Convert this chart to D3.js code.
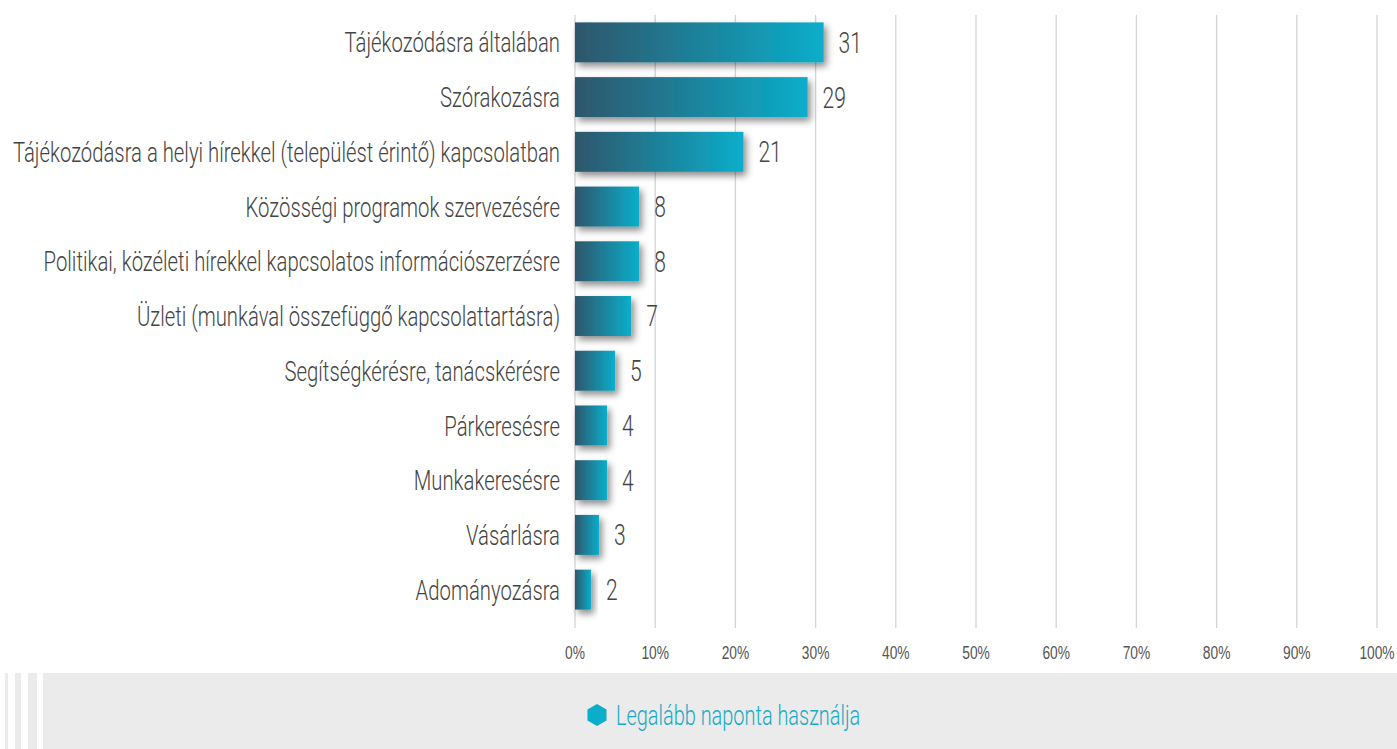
<!DOCTYPE html>
<html>
<head>
<meta charset="utf-8">
<script src="https://cdn.jsdelivr.net/npm/d3@7"></script>
<style>
  html, body { margin: 0; padding: 0; background: #fff; }
  svg { display: block; font-family: Roboto, "DejaVu Sans", sans-serif; font-weight: 300; }
</style>
</head>
<body>
<svg id="chart" width="1397" height="749"></svg>
<script>
const categories = [
  "Tájékozódásra általában",
  "Szórakozásra",
  "Tájékozódásra a helyi hírekkel (települést érintő) kapcsolatban",
  "Közösségi programok szervezésére",
  "Politikai, közéleti hírekkel kapcsolatos információszerzésre",
  "Üzleti (munkával összefüggő kapcsolattartásra)",
  "Segítségkérésre, tanácskérésre",
  "Párkeresésre",
  "Munkakeresésre",
  "Vásárlásra",
  "Adományozásra"
];
const values = [31, 29, 21, 8, 8, 7, 5, 4, 4, 3, 2];
const tickValues = [0, 10, 20, 30, 40, 50, 60, 70, 80, 90, 100];
const seriesName = "Legalább naponta használja";

const svg = d3.select("#chart");
const defs = svg.append("defs");

const grad = defs.append("linearGradient")
  .attr("id", "barGrad").attr("x1", "0%").attr("x2", "100%").attr("y1", "0%").attr("y2", "0%");
grad.append("stop").attr("offset", "0%").attr("stop-color", "#2f566b");
grad.append("stop").attr("offset", "100%").attr("stop-color", "#0aaecb");

const shadow = defs.append("filter").attr("id", "shadow")
  .attr("x", "-20%").attr("y", "-30%").attr("width", "160%").attr("height", "180%");
shadow.append("feDropShadow").attr("dx", 3).attr("dy", 4).attr("stdDeviation", 3.5)
  .attr("flood-color", "#000").attr("flood-opacity", 0.45);

const x = d3.scaleLinear().domain([0, 100]).range([575, 1377]);
const y = d3.scaleBand().domain(categories).range([15, 617]).paddingInner(0.27).paddingOuter(0.135);

// condensed lettering: draw at (px, py) and squeeze horizontally
const SQ = 0.725;
function place(sel, px, py) {
  sel.attr("x", 0).attr("y", 0)
    .attr("transform", (d, i) => `translate(${px(d, i)},${py(d, i)}) scale(${SQ},1)`);
}

// vertical grid lines
svg.append("g").selectAll("line").data(tickValues).join("line")
  .attr("x1", d => x(d)).attr("x2", d => x(d))
  .attr("y1", 15).attr("y2", 628)
  .attr("stroke", "#d4d4d4").attr("stroke-width", 1.3);

// x axis labels
const xAxis = d3.axisBottom(x).tickValues(tickValues).tickFormat(d => d + "%").tickSize(0).tickPadding(0);
const gx = svg.append("g").call(xAxis);
gx.select(".domain").remove();
gx.selectAll(".tick").attr("transform", null);
gx.selectAll(".tick text")
  .attr("font-size", 19).attr("fill", "#555").attr("font-family", "inherit")
  .attr("dy", null).attr("text-anchor", "middle")
  .call(place, d => x(d), () => 659);

// bars
svg.append("g").selectAll("rect").data(values).join("rect")
  .attr("x", x(0))
  .attr("y", (d, i) => y(categories[i]))
  .attr("width", d => x(d) - x(0))
  .attr("height", y.bandwidth())
  .attr("fill", "url(#barGrad)")
  .attr("filter", "url(#shadow)");

// value labels
svg.append("g").selectAll("text").data(values).join("text")
  .attr("dy", "0.36em")
  .attr("font-size", 29).attr("fill", "#444")
  .text(d => d)
  .call(place, d => x(d) + 15, (d, i) => y(categories[i]) + y.bandwidth() / 2);

// category labels
svg.append("g").selectAll("text").data(categories).join("text")
  .attr("dy", "0.36em")
  .attr("text-anchor", "end")
  .attr("font-size", 28).attr("fill", "#444")
  .text(d => d)
  .call(place, () => 560, d => y(d) + y.bandwidth() / 2);

// legend band
const lg = svg.append("g");
lg.append("rect").attr("x", 43).attr("y", 673).attr("width", 1354).attr("height", 76).attr("fill", "#ebebeb");
[[5, 3], [15, 6], [28, 9]].forEach(([sx, w]) => {
  lg.append("rect").attr("x", sx).attr("y", 673).attr("width", w).attr("height", 76).attr("fill", "#ebebeb");
});
const hx = 597, hy = 715, hr = 11;
const hex = d3.range(6).map(k => {
  const a = Math.PI / 3 * k - Math.PI / 2;
  return [hx + hr * Math.cos(a), hy + hr * Math.sin(a)];
});
lg.append("polygon").attr("points", hex.map(p => p.join(",")).join(" ")).attr("fill", "#0aaecb");
lg.append("text").datum(seriesName).attr("dy", "0.36em")
  .attr("font-size", 27.5).attr("fill", "#17aac6").text(d => d)
  .call(place, () => 616, () => hy);
</script>
</body>
</html>
